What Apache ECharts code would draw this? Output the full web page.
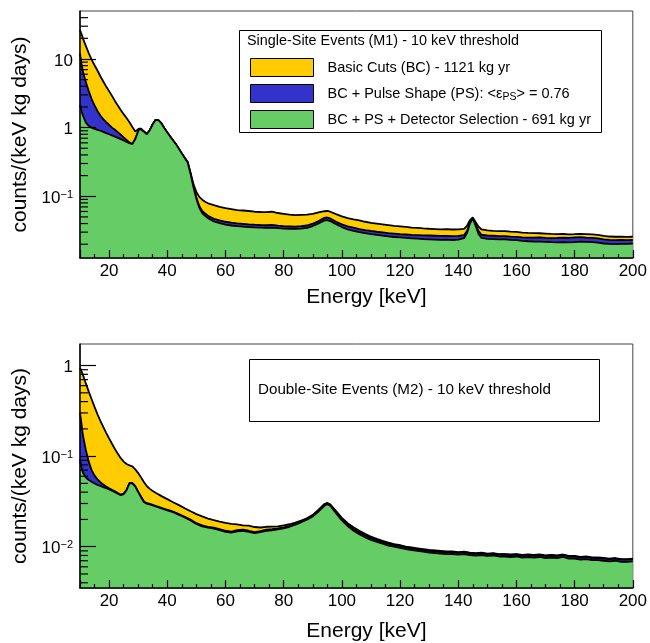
<!DOCTYPE html>
<html>
<head>
<meta charset="utf-8">
<script src="https://cdn.jsdelivr.net/npm/echarts@6/dist/echarts.min.js"></script>
<style>
  html, body { margin: 0; padding: 0; background: #fff; }
  #chart { width: 650px; height: 643px; }
</style>
</head>
<body>
<div id="chart"></div>
<script>
// energy bins, upper panel (single-site, M1)
const energyM1 = [10,10.5,11,12,13,14,15,16,17,18,19,20,21,22,23,24,25,26,27,28,29,30,30.5,31,32,33,34,35,36,37,38,39,40,41,42,43,44,45,46,47,48,49,50,51,52,53,54,56,58,60,62,64,66,68,70,72,74,76,78,80,82,84,86,88,90,92,94,95,96,98,100,102,104,106,108,110,112,114,116,118,120,122,124,126,128,130,132,134,136,138,140,142,143,144,145,146,147,148,150,152,154,156,158,160,162,164,166,168,170,172,174,176,178,180,182,184,186,188,190,192,194,196,198,200];
const bcM1 = [26.4,23,20,15.5,12.2,9.8,8.1,6.8,5.6,4.7,3.96,3.4,2.9,2.45,2.1,1.8,1.57,1.38,1.2,1.02,0.88,0.95,1.0,0.97,0.88,0.81,0.92,1.12,1.3,1.28,1.15,0.98,0.85,0.74,0.65,0.57,0.49,0.42,0.36,0.315,0.22,0.15,0.115,0.098,0.089,0.083,0.079,0.074,0.070,0.067,0.065,0.063,0.062,0.061,0.0595,0.059,0.0588,0.0595,0.057,0.0555,0.054,0.053,0.0535,0.054,0.0555,0.058,0.0605,0.061,0.0595,0.055,0.051,0.048,0.046,0.0445,0.0425,0.041,0.040,0.039,0.038,0.037,0.0365,0.0358,0.035,0.0345,0.034,0.0336,0.0333,0.033,0.0331,0.0328,0.033,0.0335,0.037,0.045,0.049,0.042,0.036,0.0328,0.0318,0.0312,0.031,0.0311,0.0305,0.0302,0.0296,0.0292,0.029,0.0289,0.0286,0.0283,0.0281,0.0282,0.0279,0.028,0.0283,0.0281,0.0279,0.0274,0.0264,0.0259,0.0257,0.0258,0.0256,0.0257];
const psM1 = [12.1,8.6,6.6,4.6,3.4,2.6,2.1,1.75,1.5,1.33,1.2,1.1,1.0,0.93,0.86,0.79,0.72,0.66,0.61,0.578,0.69,0.885,0.975,0.955,0.875,0.80,0.92,1.12,1.3,1.28,1.15,0.98,0.85,0.74,0.65,0.57,0.49,0.42,0.36,0.312,0.213,0.138,0.096,0.072,0.061,0.056,0.052,0.047,0.0445,0.0425,0.0412,0.0402,0.0396,0.039,0.0385,0.0381,0.0378,0.0382,0.0374,0.0368,0.0365,0.0362,0.0367,0.0375,0.0398,0.0435,0.0485,0.049,0.0475,0.0425,0.039,0.0365,0.0348,0.0333,0.0322,0.0312,0.0304,0.0297,0.029,0.0285,0.028,0.0277,0.0274,0.0272,0.027,0.0268,0.0266,0.0264,0.0265,0.0262,0.0264,0.0272,0.031,0.042,0.048,0.039,0.031,0.0275,0.0268,0.0266,0.0262,0.0263,0.0258,0.0256,0.0252,0.025,0.0249,0.0251,0.0248,0.0246,0.0247,0.0249,0.0248,0.0251,0.0253,0.025,0.0248,0.0244,0.0235,0.0231,0.023,0.0232,0.0229,0.0231];
const dsM1 = [2.14,1.75,1.5,1.18,1.06,1.0,0.96,0.93,0.9,0.865,0.83,0.80,0.77,0.74,0.71,0.68,0.65,0.62,0.595,0.575,0.68,0.88,0.97,0.95,0.87,0.80,0.92,1.12,1.3,1.28,1.15,0.98,0.85,0.74,0.65,0.57,0.49,0.42,0.36,0.31,0.21,0.135,0.092,0.068,0.057,0.052,0.048,0.043,0.0405,0.0385,0.0375,0.0366,0.036,0.0356,0.0352,0.0349,0.0346,0.035,0.0343,0.0338,0.0336,0.0334,0.0338,0.0346,0.0368,0.0403,0.0445,0.0449,0.0435,0.0392,0.0356,0.033,0.0313,0.03,0.029,0.0281,0.0273,0.0266,0.026,0.0255,0.0251,0.0247,0.0244,0.0241,0.0238,0.0236,0.0234,0.0232,0.0233,0.023,0.0234,0.0245,0.029,0.040,0.0475,0.037,0.028,0.0248,0.024,0.0238,0.0235,0.0236,0.0231,0.0229,0.0224,0.0221,0.0219,0.0218,0.0216,0.0214,0.0213,0.0215,0.0213,0.0214,0.0218,0.0216,0.0214,0.0211,0.0205,0.0202,0.0201,0.0203,0.0202,0.0204];

// energy bins, lower panel (double-site, M2)
const energyM2 = [10,10.5,11,12,13,14,15,16,17,18,19,20,21,22,23,24,25,26,27,27.5,28,29,30,31,32,33,34,35,36,37,38,40,42,44,46,48,50,52,54,56,58,60,62,64,66,68,70,72,74,76,78,80,82,84,86,88,90,92,94,95,96,98,100,102,104,106,108,110,112,114,116,118,120,122,124,126,128,130,132,134,136,138,140,142,144,146,148,150,152,154,156,158,160,162,164,166,168,170,172,174,176,178,180,182,184,186,188,190,192,194,196,198,200];
const bcM2 = [0.944,0.87,0.79,0.635,0.515,0.425,0.35,0.29,0.245,0.21,0.181,0.157,0.137,0.12,0.106,0.095,0.087,0.082,0.079,0.0785,0.077,0.0715,0.065,0.058,0.0515,0.0465,0.0435,0.0413,0.0395,0.0378,0.0362,0.0335,0.031,0.0288,0.0266,0.0246,0.0229,0.0216,0.0204,0.0196,0.0189,0.0183,0.0179,0.0176,0.0172,0.0171,0.0165,0.0163,0.0166,0.0167,0.0168,0.0172,0.0177,0.0185,0.0194,0.0206,0.0225,0.0257,0.0296,0.0304,0.0294,0.0248,0.0208,0.0182,0.0164,0.015,0.0139,0.0129,0.0122,0.0116,0.0111,0.0107,0.0104,0.01,0.0098,0.0096,0.0094,0.0092,0.0091,0.009,0.0089,0.0089,0.0087,0.0088,0.0086,0.0085,0.0086,0.0084,0.0085,0.0083,0.0083,0.0082,0.0083,0.0081,0.0082,0.0081,0.0082,0.008,0.0081,0.008,0.0082,0.0079,0.0079,0.0077,0.0078,0.0076,0.0076,0.0075,0.0074,0.0075,0.0073,0.0073,0.0074];
const psM2 = [0.30,0.23,0.17,0.117,0.087,0.07,0.061,0.0555,0.0515,0.0485,0.0462,0.0442,0.0425,0.041,0.0392,0.0377,0.0386,0.0425,0.0505,0.0525,0.0505,0.0466,0.0406,0.0356,0.0315,0.0302,0.0297,0.0289,0.0282,0.0276,0.0269,0.0256,0.0244,0.0229,0.0214,0.0199,0.0182,0.0172,0.0166,0.0162,0.0156,0.015,0.0147,0.0152,0.0154,0.015,0.0145,0.0149,0.0154,0.0156,0.0159,0.0163,0.017,0.0179,0.019,0.0203,0.022,0.025,0.0289,0.0301,0.029,0.0242,0.0202,0.0176,0.0157,0.0144,0.0134,0.0125,0.0119,0.0113,0.0108,0.0105,0.0102,0.0098,0.0096,0.0094,0.0092,0.009,0.0089,0.0088,0.0087,0.0087,0.0086,0.0087,0.0085,0.0084,0.0085,0.0083,0.0084,0.0082,0.0082,0.0081,0.0082,0.008,0.0081,0.008,0.0081,0.0079,0.008,0.0079,0.0081,0.0078,0.0078,0.0076,0.0077,0.0075,0.0075,0.0074,0.0073,0.0074,0.0072,0.0072,0.0073];
const dsM2 = [0.092,0.075,0.066,0.058,0.0545,0.052,0.050,0.048,0.047,0.0455,0.0442,0.043,0.0415,0.040,0.0385,0.037,0.038,0.042,0.050,0.052,0.050,0.046,0.040,0.035,0.031,0.0298,0.0293,0.0285,0.0278,0.0272,0.0265,0.0252,0.024,0.0225,0.021,0.0195,0.0178,0.0168,0.0162,0.0158,0.0152,0.0146,0.0143,0.0148,0.015,0.0146,0.0141,0.0145,0.015,0.0152,0.0155,0.0159,0.0166,0.0175,0.0186,0.0199,0.0216,0.0245,0.0283,0.0295,0.0284,0.0235,0.0195,0.0169,0.015,0.0137,0.0127,0.0119,0.0113,0.0108,0.0103,0.01,0.0097,0.0094,0.0092,0.009,0.0088,0.0086,0.0085,0.0084,0.0083,0.0083,0.0082,0.0083,0.0081,0.008,0.0081,0.0079,0.008,0.0078,0.0078,0.0077,0.0078,0.0076,0.0077,0.0076,0.0077,0.0075,0.0076,0.0075,0.0077,0.0074,0.0074,0.0072,0.0073,0.0071,0.0071,0.007,0.0069,0.007,0.0068,0.0068,0.0069];

// log-axis minor tick positions (2..9 x 10^n)
const minorTicksM1 = [40,30,20,9,8,7,6,5,4,3,2,0.9,0.8,0.7,0.6,0.5,0.4,0.3,0.2,0.09,0.08,0.07,0.06,0.05,0.04,0.03,0.02];
const minorTicksM2 = [0.9,0.8,0.7,0.6,0.5,0.4,0.3,0.2,0.09,0.08,0.07,0.06,0.05,0.04,0.03,0.02,0.009,0.008,0.007,0.006,0.005,0.004];

const seriesNames = ['Basic Cuts (BC) - 1121 kg yr', 'BC + Pulse Shape (PS)', 'BC + PS + Detector Selection - 691 kg yr'];
const fillColors = ['#ffcc00', '#3333cc', '#66cc66'];

const FONT = '"Liberation Sans", Arial, Helvetica, sans-serif';
const zip = (xs, ys) => xs.map((x, i) => [x, ys[i]]);

function logLabel(v) {
  const l = Math.log10(v);
  const n = Math.round(l);
  if (Math.abs(l - n) > 1e-6) return '';
  if (n === 0) return '1';
  if (n === 1) return '10';
  return '{b|10}{sup|\u2212' + (-n) + '}';
}

function areaSeries(idx, gi, x, y) {
  return {
    name: seriesNames[idx],
    type: 'line',
    xAxisIndex: gi,
    yAxisIndex: gi,
    data: zip(x, y),
    showSymbol: false,
    symbol: 'none',
    smooth: false,
    lineStyle: { color: '#000', width: 1.8 },
    itemStyle: { color: fillColors[idx] },
    areaStyle: { color: fillColors[idx], opacity: 1, origin: 'start' },
    z: 2 + idx
  };
}

// short inside ticks at 2..9 x 10^n on the log axis
function minorTickSeries(gi, ticks) {
  return {
    type: 'custom',
    xAxisIndex: gi,
    yAxisIndex: gi,
    z: 20,
    data: ticks.map(v => [10, v]),
    renderItem: function (params, api) {
      const p = api.coord([api.value(0), api.value(1)]);
      return {
        type: 'line',
        shape: { x1: p[0], y1: p[1], x2: p[0] + 8, y2: p[1] },
        style: { stroke: '#000', lineWidth: 1.2 }
      };
    }
  };
}

function xAxisOpt(gi, gap) {
  return {
    type: 'value',
    gridIndex: gi,
    min: 10,
    max: 200,
    splitNumber: 10,
    z: 10,
    name: 'Energy [keV]',
    nameLocation: 'middle',
    nameGap: gap,
    nameTextStyle: { fontSize: 21, color: '#000', fontFamily: FONT, padding: [0, 0, 0, 20] },
    axisLine: { show: true, lineStyle: { color: '#000', width: 1.5 } },
    axisTick: { show: true, inside: true, length: 8, lineStyle: { color: '#000', width: 1.2 } },
    minorTick: { show: true, splitNumber: 4, length: 4, lineStyle: { color: '#000', width: 1.2 } },
    axisLabel: { fontSize: 17, color: '#000', fontFamily: FONT, margin: 5, showMinLabel: false },
    splitLine: { show: false }
  };
}

function yAxisOpt(gi, min, max) {
  return {
    type: 'log',
    logBase: 10,
    gridIndex: gi,
    min: min,
    max: max,
    z: 10,
    name: 'counts/(keV kg days)',
    nameLocation: 'middle',
    nameGap: 49,
    nameTextStyle: { fontSize: 21, color: '#000', fontFamily: FONT },
    axisLine: { show: true, lineStyle: { color: '#000', width: 1.5 } },
    axisTick: { show: true, inside: true, length: 16, lineStyle: { color: '#000', width: 1.2 } },
    axisLabel: {
      fontSize: 17, color: '#000', fontFamily: FONT, margin: 7, padding: [4, 0, 0, 0],
      showMinLabel: false, showMaxLabel: false,
      formatter: logLabel,
      rich: {
        b: { fontSize: 17, color: '#000', fontFamily: FONT },
        sup: { fontSize: 11, color: '#000', fontFamily: FONT, verticalAlign: 'top', padding: [0, 0, 7, 0] }
      }
    },
    splitLine: { show: false }
  };
}

const chart = echarts.init(document.getElementById('chart'), null, { renderer: 'canvas' });

const option = {
  backgroundColor: '#fff',
  animation: false,
  textStyle: { fontFamily: FONT },
  grid: [
    { left: 80, right: 16, top: 11, height: 247, show: true, borderColor: '#444', borderWidth: 1 },
    { left: 80, right: 16, top: 344, height: 245, show: true, borderColor: '#444', borderWidth: 1 }
  ],
  xAxis: [xAxisOpt(0, 29), xAxisOpt(1, 33)],
  yAxis: [yAxisOpt(0, 0.0126, 50), yAxisOpt(1, 0.0035, 1.73)],
  legend: {
    orient: 'vertical',
    left: 250,
    top: 58,
    padding: 0,
    itemGap: 7,
    itemWidth: 63,
    itemHeight: 18,
    selectedMode: false,
    icon: 'rect',
    data: seriesNames.map((n, i) => ({
      name: n,
      icon: 'rect',
      itemStyle: { color: fillColors[i], borderColor: '#000', borderWidth: 1 }
    })),
    formatter: function (name) {
      if (name === seriesNames[1]) {
        return '{n|BC + Pulse Shape (PS): <\u03b5}{s|PS}{n|> = 0.76}';
      }
      return '{n|' + name + '}';
    },
    textStyle: {
      fontSize: 14.5, color: '#000', fontFamily: FONT, padding: [0, 0, 0, 9],
      rich: {
        n: { fontSize: 14.5, color: '#000', fontFamily: FONT, lineHeight: 18 },
        s: { fontSize: 10.5, color: '#000', fontFamily: FONT, verticalAlign: 'bottom', padding: [8, 0, 0, 0] }
      }
    }
  },
  graphic: [
    {
      type: 'rect', left: 237, top: 28, z: 30,
      shape: { width: 362, height: 102 },
      style: { fill: 'none', stroke: '#000', lineWidth: 1 }
    },
    {
      type: 'text', left: 247, top: 34, z: 31,
      style: { text: 'Single-Site Events (M1) - 10 keV threshold', fill: '#000', font: '14.4px ' + FONT }
    },
    {
      type: 'rect', left: 249, top: 359, z: 30,
      shape: { width: 350, height: 62 },
      style: { fill: '#fff', stroke: '#000', lineWidth: 1 }
    },
    {
      type: 'text', left: 258, top: 382, z: 31,
      style: { text: 'Double-Site Events (M2) - 10 keV threshold', fill: '#000', font: '15.2px ' + FONT }
    }
  ],
  series: [
    areaSeries(0, 0, energyM1, bcM1),
    areaSeries(1, 0, energyM1, psM1),
    areaSeries(2, 0, energyM1, dsM1),
    minorTickSeries(0, minorTicksM1),
    areaSeries(0, 1, energyM2, bcM2),
    areaSeries(1, 1, energyM2, psM2),
    areaSeries(2, 1, energyM2, dsM2),
    minorTickSeries(1, minorTicksM2)
  ]
};

chart.setOption(option);
</script>
</body>
</html>
